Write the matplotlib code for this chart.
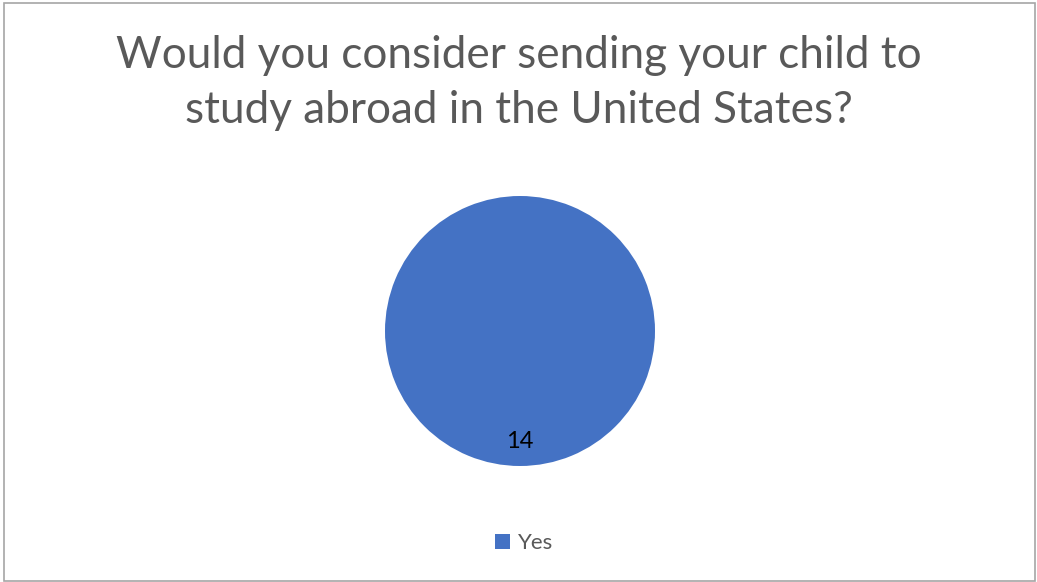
import matplotlib.pyplot as plt
from matplotlib.patches import Rectangle

# survey answers
answers = ['Yes']
counts = [14]
colors = ['#4472C4']

title = 'Would you consider sending your child to\nstudy abroad in the United States?'

W, H = 1037, 582
fig = plt.figure(figsize=(W / 100, H / 100), dpi=100)
fig.patch.set_facecolor('white')

# chart border
fig.patches.append(Rectangle((4 / W, 1.5 / H), 1031 / W, 578 / H, transform=fig.transFigure,
                             fill=False, edgecolor='#a6a6a6', linewidth=1.2))

fig.text(519 / W, 1 - 83 / H, title, ha='center', va='center', fontsize=31.8,
         color='#595959', family='Lato', linespacing=1.42)

# pie axes: centre (520, 331), radius 135 px
r = 135
ax = fig.add_axes([(520 - r) / W, 1 - (331 + r) / H, 2 * r / W, 2 * r / H])
total = sum(counts)
wedges, texts, autotexts = ax.pie(counts, colors=colors, startangle=90, radius=1,
                                  autopct=lambda p: f'{p * total / 100:.0f}', pctdistance=0.815,
                                  textprops={'fontsize': 17, 'color': 'black', 'family': 'Lato'})
ax.set_xlim(-1, 1)
ax.set_ylim(-1, 1)
ax.set_aspect('equal')

leg = fig.legend(wedges, answers, loc='center', bbox_to_anchor=(524 / W, 1 - 543 / H), frameon=False,
                 handlelength=0.65, handleheight=0.65, handletextpad=0.35,
                 prop={'family': 'Lato', 'size': 16})
for t in leg.get_texts():
    t.set_color('#595959')

fig.savefig('out.png', dpi=100)
